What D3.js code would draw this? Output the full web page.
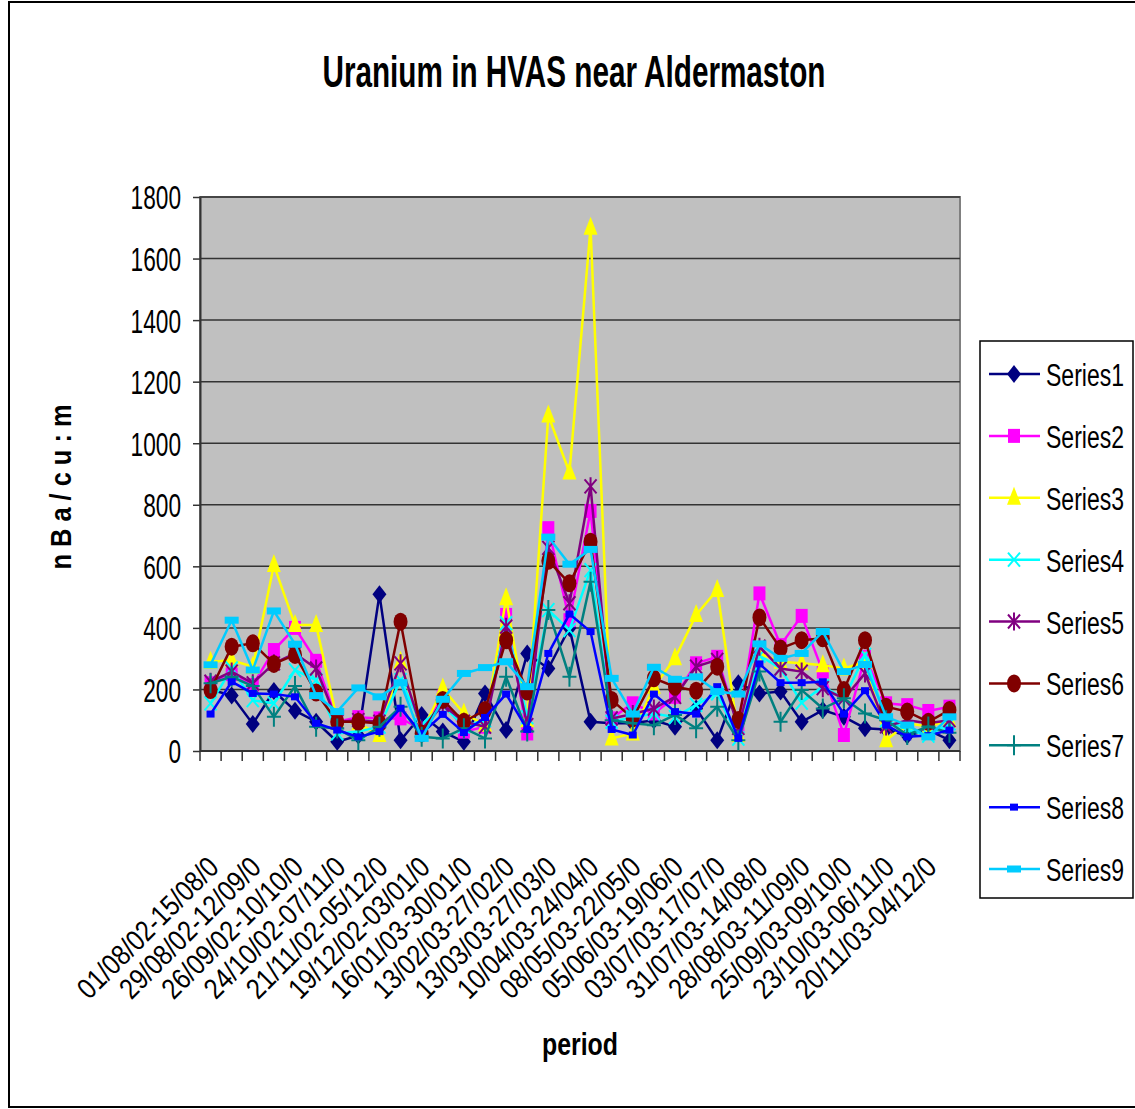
<!DOCTYPE html>
<html>
<head>
<meta charset="utf-8">
<script src="https://cdn.jsdelivr.net/npm/d3@7"></script>
<style>
  body { margin: 0; background: #fff; }
  svg text { font-family: "Liberation Sans", Arial, sans-serif; }
</style>
</head>
<body>
<script>
// fortnightly sampling periods
var periods = [
  "01/08/02-15/08/02", "15/08/02-29/08/02", "29/08/02-12/09/02", "12/09/02-26/09/02",
  "26/09/02-10/10/02", "10/10/02-24/10/02", "24/10/02-07/11/02", "07/11/02-21/11/02",
  "21/11/02-05/12/02", "05/12/02-19/12/02", "19/12/02-03/01/03", "03/01/03-16/01/03",
  "16/01/03-30/01/03", "30/01/03-13/02/03", "13/02/03-27/02/03", "27/02/03-13/03/03",
  "13/03/03-27/03/03", "27/03/03-10/04/03", "10/04/03-24/04/03", "24/04/03-08/05/03",
  "08/05/03-22/05/03", "22/05/03-05/06/03", "05/06/03-19/06/03", "19/06/03-03/07/03",
  "03/07/03-17/07/03", "17/07/03-31/07/03", "31/07/03-14/08/03", "14/08/03-28/08/03",
  "28/08/03-11/09/03", "11/09/03-25/09/03", "25/09/03-09/10/03", "09/10/03-23/10/03",
  "23/10/03-06/11/03", "06/11/03-20/11/03", "20/11/03-04/12/03", "04/12/03-18/12/03"
];

// values, nBq/cu.m
var series1 = [200,180,88,195,131,95,30,50,509,35,117,63,30,187,68,317,268,400,95,90,90,100,79,138,35,220,187,193,95,133,111,74,70,50,68,35];
var series2 = [220,250,214,328,400,293,95,110,106,106,70,177,63,79,442,57,724,425,780,106,155,122,176,285,306,80,512,344,439,258,52,306,155,149,130,144];
var series3 = [290,295,274,604,409,409,100,90,52,290,60,203,122,85,496,100,1090,905,1700,41,57,209,301,442,523,52,317,290,285,279,268,290,35,90,80,100];
var series4 = [155,268,165,155,263,230,57,63,79,230,84,149,80,100,415,110,458,393,588,95,110,122,110,150,187,40,310,268,157,210,170,312,100,70,50,90];
var series5 = [225,258,220,285,317,268,95,100,95,285,70,150,95,79,404,84,660,480,860,106,120,138,176,274,296,75,339,268,258,204,170,252,80,100,90,100];
var series6 = [198,339,350,283,312,190,95,95,90,420,57,166,95,133,360,193,618,545,680,166,106,236,209,196,274,101,434,333,360,366,198,360,144,128,95,133];
var series7 = [220,241,211,111,211,79,73,35,79,144,46,41,74,41,241,63,458,241,550,100,90,84,117,74,144,35,258,95,198,138,171,122,100,52,80,59];
var series8 = [120,225,187,185,176,90,68,46,63,139,57,119,60,109,185,70,317,445,388,70,52,185,128,120,209,41,283,222,222,225,120,196,84,46,50,68];
var series9 = [280,425,263,455,347,180,128,205,176,222,41,168,252,271,290,209,695,607,655,236,120,272,233,241,193,185,348,301,317,388,258,281,111,84,46,111];

var seriesNames = ["Series1","Series2","Series3","Series4","Series5","Series6","Series7","Series8","Series9"];
var yTicks = [0,200,400,600,800,1000,1200,1400,1600,1800];

var allSeries = [series1,series2,series3,series4,series5,series6,series7,series8,series9];
var colors = ["#000080","#FF00FF","#FFFF00","#00FFFF","#800080","#800000","#008080","#0000FF","#00CCFF"];

var svg = d3.select("body").append("svg")
  .attr("width", 1135)
  .attr("height", 1109);

// chart area frame
svg.append("rect")
  .attr("x", 9).attr("y", 2)
  .attr("width", 1135).attr("height", 1105)
  .attr("fill", "#fff")
  .attr("stroke", "#000")
  .attr("stroke-width", 2);

var plotLeft = 200, plotRight = 960, plotTop = 197, plotBottom = 751;

var x = d3.scaleBand().domain(periods).range([plotLeft, plotRight]);
var y = d3.scaleLinear().domain([0, 1800]).range([plotBottom, plotTop]);

// plot area
svg.append("rect")
  .attr("x", plotLeft).attr("y", plotTop)
  .attr("width", plotRight - plotLeft).attr("height", plotBottom - plotTop)
  .attr("fill", "#C0C0C0")
  .attr("stroke", "#808080")
  .attr("stroke-width", 2);

// gridlines
svg.selectAll("line.grid")
  .data(yTicks.slice(1))
  .enter().append("line")
    .attr("class", "grid")
    .attr("x1", plotLeft).attr("x2", plotRight)
    .attr("y1", d => y(d)).attr("y2", d => y(d))
    .attr("stroke", "#333")
    .attr("stroke-width", 1.5);

// y axis
var yAxis = d3.axisLeft(y).tickValues(yTicks).tickFormat(d3.format("d")).tickSize(7).tickSizeOuter(0);
var gy = svg.append("g")
  .attr("transform", "translate(" + plotLeft + ",0)")
  .call(yAxis);
gy.select(".domain").attr("stroke", "#333").attr("stroke-width", 2);
gy.selectAll(".tick line").attr("stroke", "#333").attr("stroke-width", 1.5);
gy.selectAll(".tick text")
  .attr("x", -19)
  .attr("dy", "0.36em")
  .attr("font-size", 33)
  .attr("fill", "#000")
  .attr("font-family", "Liberation Sans, Arial, sans-serif")
  .attr("lengthAdjust", "spacingAndGlyphs")
  .attr("textLength", d => String(d).length * 12.6);

// x axis: ticks between categories
var bounds = d3.range(periods.length + 1).map(i => plotLeft + i * x.step());
svg.append("line")
  .attr("x1", plotLeft).attr("x2", plotRight)
  .attr("y1", plotBottom).attr("y2", plotBottom)
  .attr("stroke", "#333").attr("stroke-width", 2);
svg.selectAll("line.xtick")
  .data(bounds)
  .enter().append("line")
    .attr("class", "xtick")
    .attr("x1", d => d).attr("x2", d => d)
    .attr("y1", plotBottom).attr("y2", plotBottom + 10)
    .attr("stroke", "#333").attr("stroke-width", 1.5);

// rotated labels, every other period, clipped like the original
svg.selectAll("text.xlab")
  .data(periods.filter((d, i) => i % 2 === 0))
  .enter().append("text")
    .attr("class", "xlab")
    .attr("transform", d => "translate(" + (x(d) + x.bandwidth() / 2 + 10) + ",869) rotate(-45)")
    .attr("text-anchor", "end")
    .attr("font-size", 29)
    .attr("lengthAdjust", "spacingAndGlyphs")
    .attr("textLength", 186)
    .text(d => d.slice(0, -1));

// titles
svg.append("text")
  .attr("x", 574).attr("y", 87)
  .attr("text-anchor", "middle")
  .attr("font-size", 44)
  .attr("font-weight", "bold")
  .attr("lengthAdjust", "spacingAndGlyphs")
  .attr("textLength", 503)
  .text("Uranium in HVAS near Aldermaston");

svg.append("text")
  .attr("transform", "translate(71,487) rotate(-90)")
  .attr("text-anchor", "middle")
  .attr("font-size", 30)
  .attr("font-weight", "bold")
  .attr("lengthAdjust", "spacingAndGlyphs")
  .attr("textLength", 165)
  .text("n B a / c u : m");

svg.append("text")
  .attr("x", 580).attr("y", 1055)
  .attr("text-anchor", "middle")
  .attr("font-size", 32)
  .attr("font-weight", "bold")
  .attr("lengthAdjust", "spacingAndGlyphs")
  .attr("textLength", 76)
  .text("period");

// marker drawing per series index
function marker(g, k) {
  var c = colors[k];
  if (k === 0) g.append("path").attr("d", "M0,-9L7,0L0,9L-7,0Z").attr("fill", c);
  else if (k === 1) g.append("rect").attr("x", -6).attr("y", -7).attr("width", 12).attr("height", 14).attr("fill", c);
  else if (k === 2) g.append("path").attr("d", "M0,-11L7,7L-7,7Z").attr("fill", c);
  else if (k === 3) g.append("path").attr("d", "M-6,-7L6,7M-6,7L6,-7").attr("stroke", c).attr("stroke-width", 2);
  else if (k === 4) g.append("path").attr("d", "M-6,-7L6,7M-6,7L6,-7M0,-9L0,9").attr("stroke", c).attr("stroke-width", 2);
  else if (k === 5) g.append("ellipse").attr("rx", 7).attr("ry", 9).attr("fill", c);
  else if (k === 6) g.append("path").attr("d", "M0,-10L0,10M-7,0L7,0").attr("stroke", c).attr("stroke-width", 2);
  else if (k === 7) g.append("rect").attr("x", -4).attr("y", -3.5).attr("width", 8).attr("height", 7).attr("fill", c);
  else g.append("rect").attr("x", -7).attr("y", -3.5).attr("width", 14).attr("height", 7).attr("fill", c);
}

var line = d3.line()
  .x((d, i) => x(periods[i]) + x.bandwidth() / 2)
  .y(d => y(d));

allSeries.forEach(function(vals, k) {
  var g = svg.append("g").attr("class", "series s" + (k + 1));
  g.append("path")
    .datum(vals)
    .attr("d", line)
    .attr("fill", "none")
    .attr("stroke", colors[k])
    .attr("stroke-width", 2.5);
  g.selectAll("g.pt")
    .data(vals)
    .enter().append("g")
      .attr("class", "pt")
      .attr("transform", (d, i) => "translate(" + (x(periods[i]) + x.bandwidth() / 2) + "," + y(d) + ")")
      .each(function() { marker(d3.select(this), k); });
});

// legend
var legend = svg.append("g");
legend.append("rect")
  .attr("x", 980).attr("y", 341)
  .attr("width", 153).attr("height", 557)
  .attr("fill", "#fff")
  .attr("stroke", "#000")
  .attr("stroke-width", 1.5);

var ly = d3.scalePoint().domain(seriesNames).range([374, 869]);
seriesNames.forEach(function(name, k) {
  var row = legend.append("g").attr("transform", "translate(0," + ly(name) + ")");
  row.append("line")
    .attr("x1", 989).attr("x2", 1040)
    .attr("stroke", colors[k]).attr("stroke-width", 2.5);
  marker(row.append("g").attr("transform", "translate(1014,0)"), k);
  row.append("text")
    .attr("x", 1046).attr("y", 12)
    .attr("font-size", 31)
    .attr("lengthAdjust", "spacingAndGlyphs")
    .attr("textLength", 78)
    .text(name);
});
</script>
</body>
</html>
